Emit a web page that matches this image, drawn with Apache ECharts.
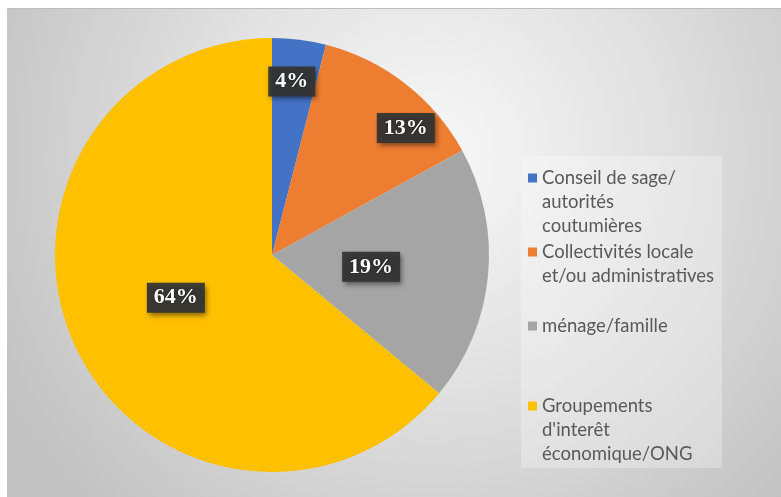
<!DOCTYPE html>
<html>
<head>
<meta charset="utf-8">
<script src="https://cdn.jsdelivr.net/npm/echarts@6/dist/echarts.min.js"></script>
<style>
  html, body { margin: 0; padding: 0; background: #ffffff; }
  #chart { position: absolute; left: 7px; top: 8px; width: 774px; height: 489px; border-top: 1px solid #bdbdbd; box-sizing: border-box; }
</style>
</head>
<body>
<div id="chart"></div>
<script>
// ---- data ----
const categories = [
  'Conseil de sage/\nautorités\ncoutumières',
  'Collectivités locale\net/ou administratives',
  'ménage/famille',
  "Groupements\nd'interêt\néconomique/ONG"
];
const values = [4, 13, 19, 64];

// ---- styles ----
const colors = ['#4472C4', '#ED7D31', '#A5A5A5', '#FFC000'];
const labelRadiusFrac = [0.805, 0.85, 0.46, 0.485];
const labelAngleShift = [-0.7, 8.7, 1.4, 1.2];
const legendTops = [157, 231, 305, 385];
const CX = 265, CY = 246, R = 217, LINE_H = 24;

const total = values.reduce((a, b) => a + b, 0);
const midAngles = [];
{ let c = 0; values.forEach(v => { midAngles.push((c + v / 2) / total * 360); c += v; }); }

function iconFor(lines) {
  const h = lines * LINE_H;
  const y0 = LINE_H / 2 - 4.5;
  return 'path://M0,' + y0 + 'h9v9h-9z M0,0h9v0.01h-9z M0,' + (h - 0.01) + 'h9v0.01h-9z';
}

const legends = categories.map((name, i) => {
  const lines = name.split('\n').length;
  return {
    left: 521,
    top: legendTops[i],
    orient: 'vertical',
    selectedMode: false,
    itemWidth: 9,
    itemHeight: lines * LINE_H,
    itemGap: 0,
    padding: 0,
    data: [{ name: name, icon: iconFor(lines) }],
    textStyle: { color: '#595959', fontFamily: 'Lato', fontSize: 18.5, lineHeight: LINE_H }
  };
});

const chart = echarts.init(document.getElementById('chart'), null, { renderer: 'canvas' });
chart.setOption({
  animation: false,
  backgroundColor: {
    type: 'radial', x: 0.55, y: 0.3, r: 1.0,
    colorStops: [
      { offset: 0, color: '#f8f8f8' },
      { offset: 0.45, color: '#e2e2e2' },
      { offset: 1, color: '#c2c2c2' }
    ]
  },
  color: colors,
  graphic: [{
    type: 'rect', left: 514, top: 147, z: -1,
    shape: { width: 201, height: 312 },
    style: { fill: 'rgba(255,255,255,0.28)' }
  }],
  legend: legends,
  series: [{
    type: 'pie',
    center: [CX, CY],
    radius: [0, R],
    startAngle: 90,
    clockwise: true,
    emphasis: { disabled: true },
    itemStyle: { borderWidth: 0 },
    label: {
      show: true,
      position: 'inside',
      formatter: p => Math.round(p.percent) + '%',
      color: '#ffffff',
      fontFamily: 'Liberation Serif',
      fontWeight: 'bold',
      fontSize: 22,
      lineHeight: 22,
      backgroundColor: 'rgba(52,52,52,0.95)',
      padding: [4, 7, 4, 7],
      shadowColor: 'rgba(0,0,0,0.5)',
      shadowBlur: 5,
      shadowOffsetX: 2,
      shadowOffsetY: 3,
      textShadowColor: 'rgba(0,0,0,0.6)',
      textShadowBlur: 2
    },
    labelLine: { show: false },
    labelLayout: function (params) {
      const i = params.dataIndex;
      const th = (midAngles[i] + labelAngleShift[i]) * Math.PI / 180;
      const r = R * labelRadiusFrac[i];
      return { x: CX + r * Math.sin(th), y: CY - r * Math.cos(th) };
    },
    data: categories.map((n, i) => ({ name: n, value: values[i] }))
  }]
});
</script>
</body>
</html>
